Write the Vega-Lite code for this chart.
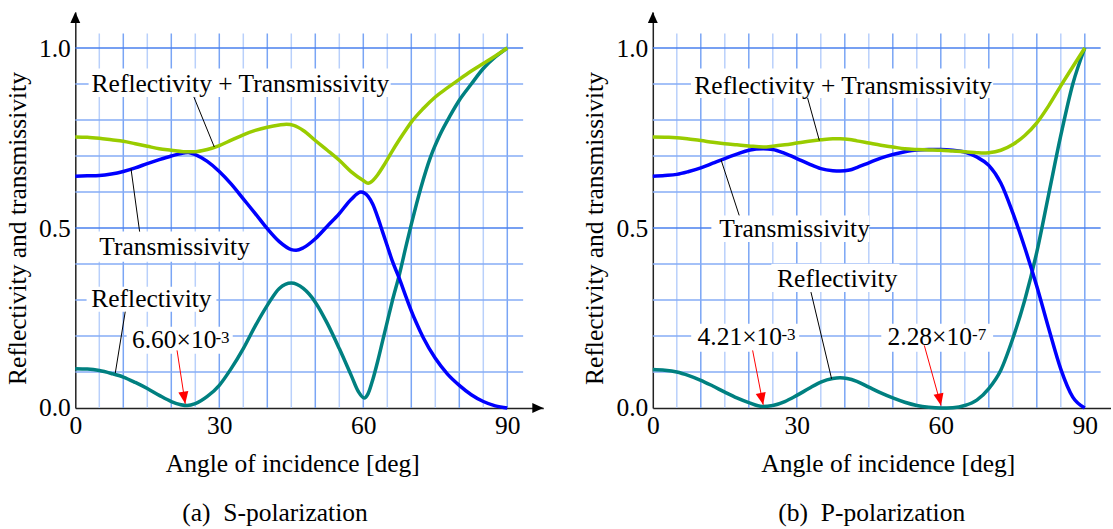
{
  "$schema": "https://vega.github.io/schema/vega-lite/v6.json",
  "background": "white",
  "padding": {"left": 5.3, "top": 12, "right": 0, "bottom": 0},
  "spacing": 39.5,
  "config": {
    "view": {"stroke": null},
    "font": "Liberation Serif",
    "axis": {
      "labelFont": "Liberation Serif", "titleFont": "Liberation Serif",
      "labelColor": "black", "titleColor": "black", "titleFontWeight": "normal",
      "labelFontSize": 25.5, "titleFontSize": 25.5,
      "ticks": false, "grid": false, "domainColor": "#222", "domainWidth": 1.5,
      "labelOverlap": false, "labelFlush": false
    },
    "title": {"font": "Liberation Serif", "fontWeight": "normal", "color": "black", "fontSize": 25.5}
  },
  "datasets": {
    "gv": [
      {"gx": 5, "ya": 0, "yb": 1.04, "major": false}, {"gx": 10, "ya": 0, "yb": 1.04, "major": true},
      {"gx": 15, "ya": 0, "yb": 1.04, "major": false}, {"gx": 20, "ya": 0, "yb": 1.04, "major": true},
      {"gx": 25, "ya": 0, "yb": 1.04, "major": false}, {"gx": 30, "ya": 0, "yb": 1.04, "major": true},
      {"gx": 35, "ya": 0, "yb": 1.04, "major": false}, {"gx": 40, "ya": 0, "yb": 1.04, "major": true},
      {"gx": 45, "ya": 0, "yb": 1.04, "major": false}, {"gx": 50, "ya": 0, "yb": 1.04, "major": true},
      {"gx": 55, "ya": 0, "yb": 1.04, "major": false}, {"gx": 60, "ya": 0, "yb": 1.04, "major": true},
      {"gx": 65, "ya": 0, "yb": 1.04, "major": false}, {"gx": 70, "ya": 0, "yb": 1.04, "major": true},
      {"gx": 75, "ya": 0, "yb": 1.04, "major": false}, {"gx": 80, "ya": 0, "yb": 1.04, "major": true},
      {"gx": 85, "ya": 0, "yb": 1.04, "major": false}, {"gx": 90, "ya": 0, "yb": 1.04, "major": true}
    ],
    "gh": [
      {"gy": 0.1, "xa": 0, "xb": 93.3, "major": false}, {"gy": 0.2, "xa": 0, "xb": 93.3, "major": false},
      {"gy": 0.3, "xa": 0, "xb": 93.3, "major": false}, {"gy": 0.4, "xa": 0, "xb": 93.3, "major": false},
      {"gy": 0.5, "xa": 0, "xb": 93.3, "major": true}, {"gy": 0.6, "xa": 0, "xb": 93.3, "major": false},
      {"gy": 0.7, "xa": 0, "xb": 93.3, "major": false}, {"gy": 0.8, "xa": 0, "xb": 93.3, "major": false},
      {"gy": 0.9, "xa": 0, "xb": 93.3, "major": false}, {"gy": 1.0, "xa": 0, "xb": 93.3, "major": true}
    ],
    "S": [
      {"s": "R", "a": 0, "v": 0.109}, {"s": "R", "a": 2.5, "v": 0.108}, {"s": "R", "a": 5, "v": 0.104}, {"s": "R", "a": 7.5, "v": 0.096},
      {"s": "R", "a": 10, "v": 0.086}, {"s": "R", "a": 12.5, "v": 0.071}, {"s": "R", "a": 15, "v": 0.054}, {"s": "R", "a": 17.5, "v": 0.035},
      {"s": "R", "a": 20, "v": 0.018}, {"s": "R", "a": 22, "v": 0.009}, {"s": "R", "a": 23.3, "v": 0.0066}, {"s": "R", "a": 25, "v": 0.012},
      {"s": "R", "a": 27.5, "v": 0.032}, {"s": "R", "a": 30, "v": 0.063}, {"s": "R", "a": 32.5, "v": 0.11}, {"s": "R", "a": 35, "v": 0.165},
      {"s": "R", "a": 37.5, "v": 0.228}, {"s": "R", "a": 40, "v": 0.285}, {"s": "R", "a": 42.5, "v": 0.332}, {"s": "R", "a": 45, "v": 0.347},
      {"s": "R", "a": 47.5, "v": 0.332}, {"s": "R", "a": 50, "v": 0.294}, {"s": "R", "a": 52.5, "v": 0.235}, {"s": "R", "a": 55, "v": 0.165},
      {"s": "R", "a": 57.5, "v": 0.09}, {"s": "R", "a": 59, "v": 0.045}, {"s": "R", "a": 60.2, "v": 0.028}, {"s": "R", "a": 61, "v": 0.04},
      {"s": "R", "a": 62, "v": 0.08}, {"s": "R", "a": 63, "v": 0.13}, {"s": "R", "a": 64, "v": 0.185}, {"s": "R", "a": 65, "v": 0.24},
      {"s": "R", "a": 66, "v": 0.295}, {"s": "R", "a": 67.5, "v": 0.37}, {"s": "R", "a": 69, "v": 0.455}, {"s": "R", "a": 70, "v": 0.51},
      {"s": "R", "a": 72, "v": 0.612}, {"s": "R", "a": 74, "v": 0.697}, {"s": "R", "a": 76, "v": 0.76}, {"s": "R", "a": 78, "v": 0.81},
      {"s": "R", "a": 80, "v": 0.855}, {"s": "R", "a": 82.5, "v": 0.9}, {"s": "R", "a": 85, "v": 0.943}, {"s": "R", "a": 87.5, "v": 0.975},
      {"s": "R", "a": 90, "v": 1.0},
      {"s": "T", "a": 0, "v": 0.644}, {"s": "T", "a": 2.5, "v": 0.645}, {"s": "T", "a": 5, "v": 0.646}, {"s": "T", "a": 7.5, "v": 0.65},
      {"s": "T", "a": 10, "v": 0.657}, {"s": "T", "a": 12.5, "v": 0.667}, {"s": "T", "a": 15, "v": 0.679}, {"s": "T", "a": 17.5, "v": 0.69},
      {"s": "T", "a": 20, "v": 0.7}, {"s": "T", "a": 22.5, "v": 0.708}, {"s": "T", "a": 23.5, "v": 0.71}, {"s": "T", "a": 25, "v": 0.704},
      {"s": "T", "a": 27.5, "v": 0.685}, {"s": "T", "a": 30, "v": 0.657}, {"s": "T", "a": 32.5, "v": 0.622}, {"s": "T", "a": 35, "v": 0.581},
      {"s": "T", "a": 37.5, "v": 0.54}, {"s": "T", "a": 40, "v": 0.498}, {"s": "T", "a": 42.5, "v": 0.462}, {"s": "T", "a": 45, "v": 0.44},
      {"s": "T", "a": 46, "v": 0.438}, {"s": "T", "a": 47.5, "v": 0.445}, {"s": "T", "a": 50, "v": 0.47}, {"s": "T", "a": 52.5, "v": 0.505},
      {"s": "T", "a": 55, "v": 0.54}, {"s": "T", "a": 57.5, "v": 0.58}, {"s": "T", "a": 59.5, "v": 0.6}, {"s": "T", "a": 61, "v": 0.588},
      {"s": "T", "a": 62, "v": 0.565}, {"s": "T", "a": 63, "v": 0.53}, {"s": "T", "a": 64, "v": 0.49}, {"s": "T", "a": 65, "v": 0.45},
      {"s": "T", "a": 66, "v": 0.41}, {"s": "T", "a": 67.5, "v": 0.36}, {"s": "T", "a": 69, "v": 0.305}, {"s": "T", "a": 70, "v": 0.27},
      {"s": "T", "a": 71, "v": 0.238}, {"s": "T", "a": 72.5, "v": 0.195}, {"s": "T", "a": 75, "v": 0.138}, {"s": "T", "a": 77.5, "v": 0.095},
      {"s": "T", "a": 80, "v": 0.063}, {"s": "T", "a": 82.5, "v": 0.037}, {"s": "T", "a": 85, "v": 0.018}, {"s": "T", "a": 87.5, "v": 0.006},
      {"s": "T", "a": 90, "v": 0.0},
      {"s": "RT", "a": 0, "v": 0.753}, {"s": "RT", "a": 2.5, "v": 0.752}, {"s": "RT", "a": 5, "v": 0.749}, {"s": "RT", "a": 7.5, "v": 0.745},
      {"s": "RT", "a": 10, "v": 0.741}, {"s": "RT", "a": 12.5, "v": 0.734}, {"s": "RT", "a": 15, "v": 0.727}, {"s": "RT", "a": 17.5, "v": 0.72},
      {"s": "RT", "a": 20, "v": 0.716}, {"s": "RT", "a": 22.5, "v": 0.712}, {"s": "RT", "a": 25, "v": 0.712}, {"s": "RT", "a": 27.5, "v": 0.718},
      {"s": "RT", "a": 30, "v": 0.729}, {"s": "RT", "a": 32.5, "v": 0.744}, {"s": "RT", "a": 35, "v": 0.759}, {"s": "RT", "a": 37.5, "v": 0.771},
      {"s": "RT", "a": 40, "v": 0.78}, {"s": "RT", "a": 42.5, "v": 0.786}, {"s": "RT", "a": 44, "v": 0.788}, {"s": "RT", "a": 45.5, "v": 0.785},
      {"s": "RT", "a": 47.5, "v": 0.771}, {"s": "RT", "a": 50, "v": 0.743}, {"s": "RT", "a": 52.5, "v": 0.716}, {"s": "RT", "a": 55, "v": 0.688},
      {"s": "RT", "a": 57.5, "v": 0.656}, {"s": "RT", "a": 60, "v": 0.632}, {"s": "RT", "a": 61, "v": 0.624}, {"s": "RT", "a": 62, "v": 0.632},
      {"s": "RT", "a": 63, "v": 0.648}, {"s": "RT", "a": 64, "v": 0.668}, {"s": "RT", "a": 65, "v": 0.69}, {"s": "RT", "a": 66, "v": 0.713},
      {"s": "RT", "a": 67.5, "v": 0.745}, {"s": "RT", "a": 69, "v": 0.775}, {"s": "RT", "a": 70, "v": 0.794}, {"s": "RT", "a": 72.5, "v": 0.832},
      {"s": "RT", "a": 75, "v": 0.864}, {"s": "RT", "a": 77.5, "v": 0.889}, {"s": "RT", "a": 80, "v": 0.913}, {"s": "RT", "a": 82.5, "v": 0.936},
      {"s": "RT", "a": 85, "v": 0.957}, {"s": "RT", "a": 87.5, "v": 0.978}, {"s": "RT", "a": 90, "v": 1.0}
    ],
    "P": [
      {"s": "R", "a": 0, "v": 0.107}, {"s": "R", "a": 2.5, "v": 0.105}, {"s": "R", "a": 5, "v": 0.1}, {"s": "R", "a": 7.5, "v": 0.09},
      {"s": "R", "a": 10, "v": 0.077}, {"s": "R", "a": 12.5, "v": 0.061}, {"s": "R", "a": 15, "v": 0.044}, {"s": "R", "a": 17.5, "v": 0.028},
      {"s": "R", "a": 20, "v": 0.015}, {"s": "R", "a": 22.8, "v": 0.0042}, {"s": "R", "a": 25, "v": 0.007}, {"s": "R", "a": 27.5, "v": 0.018},
      {"s": "R", "a": 30, "v": 0.035}, {"s": "R", "a": 32.5, "v": 0.054}, {"s": "R", "a": 35, "v": 0.072}, {"s": "R", "a": 37.5, "v": 0.082},
      {"s": "R", "a": 39, "v": 0.084}, {"s": "R", "a": 40.5, "v": 0.082}, {"s": "R", "a": 42.5, "v": 0.074}, {"s": "R", "a": 45, "v": 0.058},
      {"s": "R", "a": 47.5, "v": 0.042}, {"s": "R", "a": 50, "v": 0.028}, {"s": "R", "a": 52.5, "v": 0.016}, {"s": "R", "a": 55, "v": 0.007},
      {"s": "R", "a": 57.5, "v": 0.002}, {"s": "R", "a": 60, "v": 0.0}, {"s": "R", "a": 62.5, "v": 0.001}, {"s": "R", "a": 65, "v": 0.007},
      {"s": "R", "a": 67.5, "v": 0.022}, {"s": "R", "a": 70, "v": 0.054}, {"s": "R", "a": 72.5, "v": 0.105}, {"s": "R", "a": 75, "v": 0.193},
      {"s": "R", "a": 77.5, "v": 0.3}, {"s": "R", "a": 80, "v": 0.433}, {"s": "R", "a": 82.5, "v": 0.595},
      {"s": "R", "a": 85, "v": 0.757}, {"s": "R", "a": 87.5, "v": 0.9}, {"s": "R", "a": 90, "v": 1.0},
      {"s": "T", "a": 0, "v": 0.644}, {"s": "T", "a": 2.5, "v": 0.646}, {"s": "T", "a": 5, "v": 0.649}, {"s": "T", "a": 7.5, "v": 0.657},
      {"s": "T", "a": 10, "v": 0.667}, {"s": "T", "a": 12.5, "v": 0.68}, {"s": "T", "a": 15, "v": 0.693}, {"s": "T", "a": 17.5, "v": 0.705},
      {"s": "T", "a": 20, "v": 0.716}, {"s": "T", "a": 23, "v": 0.72}, {"s": "T", "a": 25, "v": 0.718}, {"s": "T", "a": 27.5, "v": 0.707},
      {"s": "T", "a": 30, "v": 0.693}, {"s": "T", "a": 32.5, "v": 0.678}, {"s": "T", "a": 35, "v": 0.665}, {"s": "T", "a": 37.5, "v": 0.659},
      {"s": "T", "a": 39, "v": 0.658}, {"s": "T", "a": 41, "v": 0.661}, {"s": "T", "a": 42.5, "v": 0.668}, {"s": "T", "a": 45, "v": 0.681},
      {"s": "T", "a": 47.5, "v": 0.694}, {"s": "T", "a": 50, "v": 0.704}, {"s": "T", "a": 52.5, "v": 0.712}, {"s": "T", "a": 55, "v": 0.717},
      {"s": "T", "a": 57.5, "v": 0.718}, {"s": "T", "a": 60, "v": 0.718}, {"s": "T", "a": 62.5, "v": 0.716}, {"s": "T", "a": 65, "v": 0.711},
      {"s": "T", "a": 67.5, "v": 0.697}, {"s": "T", "a": 70, "v": 0.674}, {"s": "T", "a": 72.5, "v": 0.625}, {"s": "T", "a": 75, "v": 0.542},
      {"s": "T", "a": 77.5, "v": 0.445}, {"s": "T", "a": 80, "v": 0.338}, {"s": "T", "a": 82.5, "v": 0.22},
      {"s": "T", "a": 85, "v": 0.108}, {"s": "T", "a": 87.5, "v": 0.03}, {"s": "T", "a": 90, "v": 0.0},
      {"s": "RT", "a": 0, "v": 0.753}, {"s": "RT", "a": 2.5, "v": 0.752}, {"s": "RT", "a": 5, "v": 0.751}, {"s": "RT", "a": 7.5, "v": 0.747},
      {"s": "RT", "a": 10, "v": 0.743}, {"s": "RT", "a": 12.5, "v": 0.738}, {"s": "RT", "a": 15, "v": 0.734}, {"s": "RT", "a": 17.5, "v": 0.731},
      {"s": "RT", "a": 20, "v": 0.728}, {"s": "RT", "a": 23, "v": 0.725}, {"s": "RT", "a": 25, "v": 0.727}, {"s": "RT", "a": 27.5, "v": 0.731},
      {"s": "RT", "a": 30, "v": 0.736}, {"s": "RT", "a": 32.5, "v": 0.741}, {"s": "RT", "a": 35, "v": 0.745}, {"s": "RT", "a": 37.5, "v": 0.748},
      {"s": "RT", "a": 39, "v": 0.748}, {"s": "RT", "a": 41, "v": 0.746}, {"s": "RT", "a": 42.5, "v": 0.742}, {"s": "RT", "a": 45, "v": 0.736},
      {"s": "RT", "a": 47.5, "v": 0.73}, {"s": "RT", "a": 50, "v": 0.725}, {"s": "RT", "a": 52.5, "v": 0.72}, {"s": "RT", "a": 55, "v": 0.718},
      {"s": "RT", "a": 57.5, "v": 0.717}, {"s": "RT", "a": 60, "v": 0.716}, {"s": "RT", "a": 62.5, "v": 0.714}, {"s": "RT", "a": 65, "v": 0.712},
      {"s": "RT", "a": 67.5, "v": 0.709}, {"s": "RT", "a": 69, "v": 0.708}, {"s": "RT", "a": 70, "v": 0.709}, {"s": "RT", "a": 72.5, "v": 0.716},
      {"s": "RT", "a": 75, "v": 0.732}, {"s": "RT", "a": 77.5, "v": 0.757}, {"s": "RT", "a": 80, "v": 0.792}, {"s": "RT", "a": 82.5, "v": 0.84},
      {"s": "RT", "a": 85, "v": 0.895}, {"s": "RT", "a": 87.5, "v": 0.948}, {"s": "RT", "a": 90, "v": 1.0}
    ],
    "Sbox": [
      {"x1": 2.77, "x2": 65.7, "y1": 0.864, "y2": 0.943},
      {"x1": 3.8, "x2": 36.5, "y1": 0.406, "y2": 0.49},
      {"x1": 2.35, "x2": 29.4, "y1": 0.2675, "y2": 0.337},
      {"x1": 10.7, "x2": 32.8, "y1": 0.151, "y2": 0.226}
    ],
    "Pbox": [
      {"x1": 7.96, "x2": 70.9, "y1": 0.861, "y2": 0.943},
      {"x1": 12.2, "x2": 45.1, "y1": 0.461, "y2": 0.535},
      {"x1": 24.7, "x2": 51.4, "y1": 0.322, "y2": 0.401},
      {"x1": 8.0, "x2": 30.5, "y1": 0.156, "y2": 0.234},
      {"x1": 47.6, "x2": 70.9, "y1": 0.156, "y2": 0.234}
    ],
    "Slead": [
      {"x1": 24.7, "y1": 0.864, "x2": 28.96, "y2": 0.725},
      {"x1": 13.4, "y1": 0.49, "x2": 11.6, "y2": 0.665},
      {"x1": 10.4, "y1": 0.2675, "x2": 8.33, "y2": 0.097}
    ],
    "Plead": [
      {"x1": 32.25, "y1": 0.861, "x2": 34.7, "y2": 0.743},
      {"x1": 18.0, "y1": 0.535, "x2": 14.2, "y2": 0.69},
      {"x1": 32.95, "y1": 0.322, "x2": 37.25, "y2": 0.081}
    ],
    "Sarrow": [{"x1": 21.2, "y1": 0.16, "x2": 22.9, "y2": 0.012}],
    "Parrow": [
      {"x1": 20.8, "y1": 0.16, "x2": 23.0, "y2": 0.009},
      {"x1": 56.56, "y1": 0.174, "x2": 60.04, "y2": 0.007}
    ],
    "Stext": [
      {"x": 3.4, "y": 0.877, "t": "Reflectivity + Transmissivity"},
      {"x": 5.0, "y": 0.424, "t": "Transmissivity"},
      {"x": 3.33, "y": 0.281, "t": "Reflectivity"},
      {"x": 11.8, "y": 0.167, "t": "6.60×10"}
    ],
    "Ssup": [{"x": 29.2, "y": 0.181, "t": "-3"}],
    "Ptext": [
      {"x": 8.65, "y": 0.873, "t": "Reflectivity + Transmissivity"},
      {"x": 13.85, "y": 0.475, "t": "Transmissivity"},
      {"x": 25.9, "y": 0.336, "t": "Reflectivity"},
      {"x": 9.33, "y": 0.174, "t": "4.21×10"},
      {"x": 48.9, "y": 0.176, "t": "2.28×10"}
    ],
    "Psup": [
      {"x": 26.8, "y": 0.188, "t": "-3"},
      {"x": 66.5, "y": 0.19, "t": "-7"}
    ],
    "Saxis": [{"ax": 0, "ay": 1.1, "bx": 97.5, "by": 0}],
    "Paxis": [{"ax": 0, "ay": 1.1, "bx": 95.5, "by": 0}]
  },
  "hconcat": [
    {
      "width": 468, "height": 396,
      "title": {"text": "(a)\u00a0\u00a0S-polarization", "orient": "bottom", "anchor": "start", "frame": "group", "dx": 107, "offset": 24.5},
      "layer": [
        {"data": {"name": "gv"}, "transform": [{"filter": "!datum.major"}], "mark": {"type": "rule", "color": "#b9d0fb", "strokeWidth": 1.5},
         "encoding": {
           "x": {"field": "gx", "type": "quantitative", "scale": {"domain": [0, 97.5], "nice": false, "zero": false},
                 "axis": {"values": [0, 30, 60, 90], "labelPadding": 6, "title": "Angle of incidence [deg]", "titlePadding": 12, "titleX": 217}},
           "y": {"field": "ya", "type": "quantitative", "scale": {"domain": [0, 1.1], "nice": false, "zero": false},
                 "axis": {"values": [0, 0.5, 1], "format": ".1f", "labelPadding": 5, "title": "Reflectivity and transmissivity", "titlePadding": 8, "titleY": 216}},
           "y2": {"field": "yb"}}},
        {"data": {"name": "gv"}, "transform": [{"filter": "datum.major"}], "mark": {"type": "rule", "color": "#7aa5f5", "strokeWidth": 1.5},
         "encoding": {"x": {"field": "gx", "type": "quantitative"}, "y": {"field": "ya", "type": "quantitative"}, "y2": {"field": "yb"}}},
        {"data": {"name": "gh"}, "transform": [{"filter": "!datum.major"}], "mark": {"type": "rule", "color": "#86acf6", "strokeWidth": 1.5},
         "encoding": {"y": {"field": "gy", "type": "quantitative"}, "x": {"field": "xa", "type": "quantitative"}, "x2": {"field": "xb"}}},
        {"data": {"name": "gh"}, "transform": [{"filter": "datum.major"}], "mark": {"type": "rule", "color": "#4a80ee", "strokeWidth": 1.5},
         "encoding": {"y": {"field": "gy", "type": "quantitative"}, "x": {"field": "xa", "type": "quantitative"}, "x2": {"field": "xb"}}},
        {"data": {"name": "Sbox"}, "mark": {"type": "rect", "fill": "white"},
         "encoding": {"x": {"field": "x1", "type": "quantitative"}, "x2": {"field": "x2"}, "y": {"field": "y1", "type": "quantitative"}, "y2": {"field": "y2"}}},
        {"data": {"name": "S"}, "mark": {"type": "line", "strokeWidth": 3.5, "interpolate": "monotone"},
         "encoding": {"x": {"field": "a", "type": "quantitative"}, "y": {"field": "v", "type": "quantitative"},
           "color": {"field": "s", "type": "nominal", "scale": {"domain": ["RT", "T", "R"], "range": ["#99cc00", "#0000ff", "#008080"]}, "legend": null}}},
        {"data": {"name": "Slead"}, "mark": {"type": "rule", "color": "black", "strokeWidth": 1},
         "encoding": {"x": {"field": "x1", "type": "quantitative"}, "y": {"field": "y1", "type": "quantitative"}, "x2": {"field": "x2"}, "y2": {"field": "y2"}}},
        {"data": {"name": "Sarrow"}, "mark": {"type": "rule", "color": "#ff0000", "strokeWidth": 1},
         "encoding": {"x": {"field": "x1", "type": "quantitative"}, "y": {"field": "y1", "type": "quantitative"}, "x2": {"field": "x2"}, "y2": {"field": "y2"}}},
        {"data": {"name": "Sarrow"}, "mark": {"type": "point", "shape": "M0,0L-0.42,-1L0.42,-1Z", "size": 576, "filled": true, "color": "#ff0000", "opacity": 1, "angle": 351},
         "encoding": {"x": {"field": "x2", "type": "quantitative"}, "y": {"field": "y2", "type": "quantitative"}}},
        {"data": {"name": "Saxis"}, "mark": {"type": "point", "shape": "M0,0L-0.45,1L0.45,1Z", "size": 484, "filled": true, "color": "black", "opacity": 1},
         "encoding": {"x": {"field": "ax", "type": "quantitative"}, "y": {"field": "ay", "type": "quantitative"}}},
        {"data": {"name": "Saxis"}, "mark": {"type": "point", "shape": "M0,0L-1,-0.45L-1,0.45Z", "size": 484, "filled": true, "color": "black", "opacity": 1},
         "encoding": {"x": {"field": "bx", "type": "quantitative"}, "y": {"field": "by", "type": "quantitative"}}},
        {"data": {"name": "Stext"}, "mark": {"type": "text", "align": "left", "baseline": "alphabetic", "fontSize": 25.5, "font": "Liberation Serif", "color": "black"},
         "encoding": {"x": {"field": "x", "type": "quantitative"}, "y": {"field": "y", "type": "quantitative"}, "text": {"field": "t"}}},
        {"data": {"name": "Ssup"}, "mark": {"type": "text", "align": "left", "baseline": "alphabetic", "fontSize": 17, "font": "Liberation Serif", "color": "black"},
         "encoding": {"x": {"field": "x", "type": "quantitative"}, "y": {"field": "y", "type": "quantitative"}, "text": {"field": "t"}}}
      ]
    },
    {
      "width": 458.4, "height": 396,
      "title": {"text": "(b)\u00a0\u00a0P-polarization", "orient": "bottom", "anchor": "start", "frame": "group", "dx": 125.5, "offset": 24.5},
      "layer": [
        {"data": {"name": "gv"}, "transform": [{"filter": "!datum.major"}], "mark": {"type": "rule", "color": "#b9d0fb", "strokeWidth": 1.5},
         "encoding": {
           "x": {"field": "gx", "type": "quantitative", "scale": {"domain": [0, 95.5], "nice": false, "zero": false},
                 "axis": {"values": [0, 30, 60, 90], "labelPadding": 6, "title": "Angle of incidence [deg]", "titlePadding": 12, "titleX": 235}},
           "y": {"field": "ya", "type": "quantitative", "scale": {"domain": [0, 1.1], "nice": false, "zero": false},
                 "axis": {"values": [0, 0.5, 1], "format": ".1f", "labelPadding": 5, "title": "Reflectivity and transmissivity", "titlePadding": 8, "titleY": 216}},
           "y2": {"field": "yb"}}},
        {"data": {"name": "gv"}, "transform": [{"filter": "datum.major"}], "mark": {"type": "rule", "color": "#7aa5f5", "strokeWidth": 1.5},
         "encoding": {"x": {"field": "gx", "type": "quantitative"}, "y": {"field": "ya", "type": "quantitative"}, "y2": {"field": "yb"}}},
        {"data": {"name": "gh"}, "transform": [{"filter": "!datum.major"}], "mark": {"type": "rule", "color": "#86acf6", "strokeWidth": 1.5},
         "encoding": {"y": {"field": "gy", "type": "quantitative"}, "x": {"field": "xa", "type": "quantitative"}, "x2": {"field": "xb"}}},
        {"data": {"name": "gh"}, "transform": [{"filter": "datum.major"}], "mark": {"type": "rule", "color": "#4a80ee", "strokeWidth": 1.5},
         "encoding": {"y": {"field": "gy", "type": "quantitative"}, "x": {"field": "xa", "type": "quantitative"}, "x2": {"field": "xb"}}},
        {"data": {"name": "Pbox"}, "mark": {"type": "rect", "fill": "white"},
         "encoding": {"x": {"field": "x1", "type": "quantitative"}, "x2": {"field": "x2"}, "y": {"field": "y1", "type": "quantitative"}, "y2": {"field": "y2"}}},
        {"data": {"name": "P"}, "mark": {"type": "line", "strokeWidth": 3.5, "interpolate": "monotone"},
         "encoding": {"x": {"field": "a", "type": "quantitative"}, "y": {"field": "v", "type": "quantitative"},
           "color": {"field": "s", "type": "nominal", "scale": {"domain": ["RT", "T", "R"], "range": ["#99cc00", "#0000ff", "#008080"]}, "legend": null}}},
        {"data": {"name": "Plead"}, "mark": {"type": "rule", "color": "black", "strokeWidth": 1},
         "encoding": {"x": {"field": "x1", "type": "quantitative"}, "y": {"field": "y1", "type": "quantitative"}, "x2": {"field": "x2"}, "y2": {"field": "y2"}}},
        {"data": {"name": "Parrow"}, "mark": {"type": "rule", "color": "#ff0000", "strokeWidth": 1},
         "encoding": {"x": {"field": "x1", "type": "quantitative"}, "y": {"field": "y1", "type": "quantitative"}, "x2": {"field": "x2"}, "y2": {"field": "y2"}}},
        {"data": {"name": "Parrow"}, "mark": {"type": "point", "shape": "M0,0L-0.42,-1L0.42,-1Z", "size": 576, "filled": true, "color": "#ff0000", "opacity": 1, "angle": 348},
         "encoding": {"x": {"field": "x2", "type": "quantitative"}, "y": {"field": "y2", "type": "quantitative"}}},
        {"data": {"name": "Paxis"}, "mark": {"type": "point", "shape": "M0,0L-0.45,1L0.45,1Z", "size": 484, "filled": true, "color": "black", "opacity": 1},
         "encoding": {"x": {"field": "ax", "type": "quantitative"}, "y": {"field": "ay", "type": "quantitative"}}},
        {"data": {"name": "Ptext"}, "mark": {"type": "text", "align": "left", "baseline": "alphabetic", "fontSize": 25.5, "font": "Liberation Serif", "color": "black"},
         "encoding": {"x": {"field": "x", "type": "quantitative"}, "y": {"field": "y", "type": "quantitative"}, "text": {"field": "t"}}},
        {"data": {"name": "Psup"}, "mark": {"type": "text", "align": "left", "baseline": "alphabetic", "fontSize": 17, "font": "Liberation Serif", "color": "black"},
         "encoding": {"x": {"field": "x", "type": "quantitative"}, "y": {"field": "y", "type": "quantitative"}, "text": {"field": "t"}}}
      ]
    }
  ]
}
